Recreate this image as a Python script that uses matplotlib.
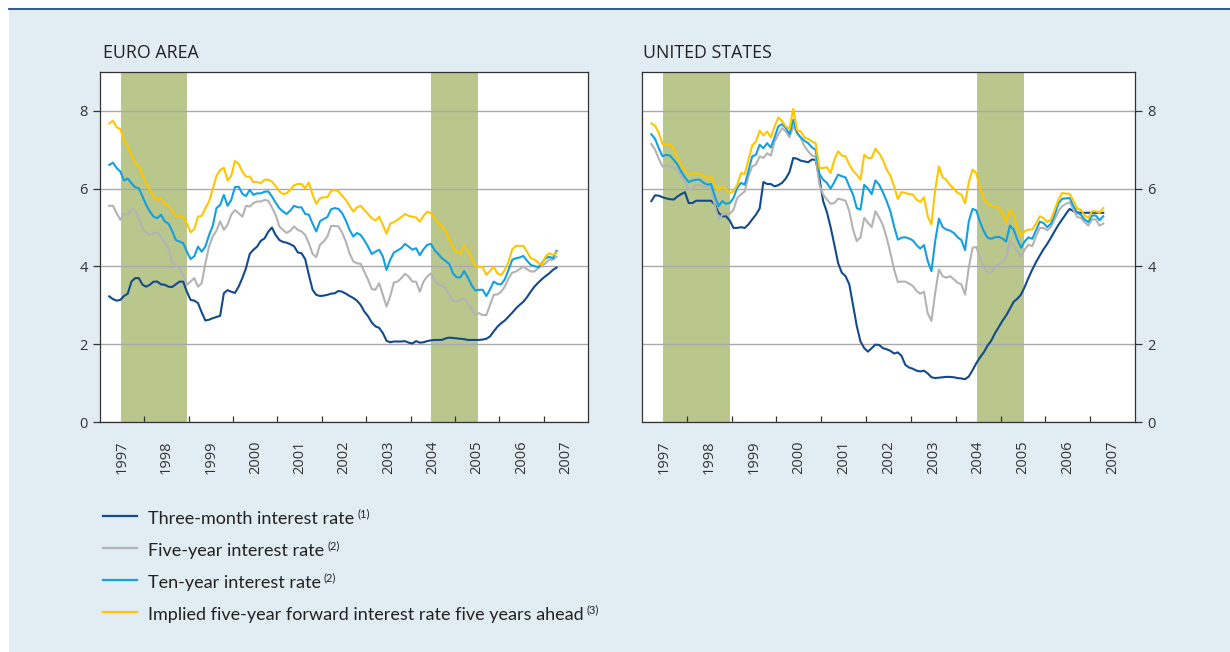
import numpy as np
import matplotlib
matplotlib.use("Agg")
import matplotlib.pyplot as plt
from matplotlib import font_manager
from matplotlib.lines import Line2D
from matplotlib.patches import Rectangle

# ---------------- data (monthly, Mar 1997 - Apr 2007) ----------------
start_year = 1997
start_month = 3
n_months = 122

euro_3m = [
    3.23, 3.16, 3.12, 3.14, 3.24, 3.30, 3.61, 3.70, 3.70, 3.53,
    3.48, 3.53, 3.61, 3.61, 3.54, 3.53, 3.48, 3.47, 3.54, 3.61,
    3.61, 3.35, 3.14, 3.12, 3.06, 2.82, 2.61, 2.63, 2.67, 2.70,
    2.73, 3.31, 3.39, 3.35, 3.32, 3.48, 3.70, 3.96, 4.32, 4.43,
    4.51, 4.66, 4.72, 4.89, 5.00, 4.81, 4.68, 4.63, 4.61, 4.57,
    4.52, 4.36, 4.34, 4.19, 3.78, 3.40, 3.27, 3.24, 3.25, 3.27,
    3.30, 3.31, 3.37, 3.35, 3.30, 3.24, 3.19, 3.12, 3.01, 2.84,
    2.72, 2.56, 2.46, 2.42, 2.29, 2.09, 2.05, 2.07, 2.07, 2.07,
    2.08, 2.04, 2.02, 2.08, 2.04, 2.05, 2.08, 2.10, 2.11, 2.11,
    2.11, 2.15, 2.17, 2.16, 2.15, 2.14, 2.13, 2.11, 2.11, 2.11,
    2.11, 2.12, 2.14, 2.20, 2.33, 2.45, 2.54, 2.61, 2.71, 2.81,
    2.92, 3.01, 3.09, 3.21, 3.35, 3.48, 3.58, 3.67, 3.75, 3.82,
    3.91, 3.97]

euro_5y = [
    5.56, 5.56, 5.37, 5.20, 5.37, 5.33, 5.47, 5.45, 5.24, 4.98,
    4.86, 4.81, 4.86, 4.87, 4.75, 4.60, 4.47, 4.13, 4.02, 3.96,
    3.78, 3.53, 3.61, 3.70, 3.48, 3.57, 4.08, 4.51, 4.77, 4.92,
    5.16, 4.94, 5.07, 5.33, 5.45, 5.37, 5.28, 5.56, 5.54, 5.63,
    5.67,
    5.67, 5.71, 5.69, 5.52, 5.33, 5.03, 4.94, 4.86, 4.92, 5.03,
    4.94, 4.90, 4.81, 4.60, 4.32, 4.24, 4.56, 4.64, 4.77, 5.04,
    5.04, 5.03, 4.87, 4.64, 4.34, 4.13, 4.08, 4.07, 3.87, 3.66,
    3.42, 3.40, 3.57, 3.27, 2.97, 3.23, 3.59, 3.61, 3.70, 3.81,
    3.74, 3.61,
    3.61, 3.35, 3.61, 3.74, 3.82, 3.65, 3.55, 3.50, 3.44, 3.27,
    3.12, 3.10, 3.14, 3.18, 3.05, 2.92, 2.75, 2.80, 2.75, 2.75,
    3.01, 3.27, 3.28, 3.35, 3.48, 3.69, 3.84, 3.87, 3.93, 4.00,
    3.93, 3.87, 3.87, 3.95, 4.01, 4.08, 4.18, 4.17, 4.25]

euro_10y = [
    6.61, 6.67, 6.53, 6.44, 6.21, 6.26, 6.14, 6.04, 6.01, 5.80,
    5.58, 5.41, 5.28, 5.24, 5.33, 5.16, 5.10, 4.92, 4.68, 4.64,
    4.60, 4.38, 4.19, 4.26, 4.51, 4.38, 4.51, 4.81, 5.04, 5.50,
    5.58, 5.84, 5.56, 5.71, 6.04, 6.05, 5.87, 5.81, 5.97, 5.84,
    5.88,
    5.88, 5.92, 5.93, 5.80, 5.64, 5.50, 5.41, 5.35, 5.44, 5.56,
    5.52, 5.52, 5.35, 5.33, 5.10, 4.90, 5.16, 5.22, 5.27, 5.47,
    5.50, 5.48, 5.37, 5.18, 4.94, 4.77, 4.86, 4.81, 4.67, 4.51,
    4.32, 4.38, 4.43, 4.26, 3.91, 4.17, 4.36, 4.41, 4.47, 4.58,
    4.51, 4.43,
    4.47, 4.29, 4.44, 4.55, 4.58, 4.42, 4.32, 4.21, 4.14, 4.06,
    3.82, 3.72, 3.72, 3.88, 3.72, 3.52, 3.38, 3.40, 3.40, 3.24,
    3.41, 3.61, 3.55, 3.54, 3.67, 3.91, 4.17, 4.21, 4.23, 4.27,
    4.15, 4.04, 4.01, 3.98, 4.08, 4.21, 4.25, 4.21, 4.40]

euro_fwd = [
    7.67, 7.75, 7.58, 7.53, 7.24, 7.10, 6.87, 6.64, 6.59, 6.33,
    6.12, 5.97, 5.80, 5.71, 5.75, 5.60, 5.56, 5.44, 5.30, 5.30,
    5.27, 5.11, 4.88, 4.96, 5.28, 5.30, 5.50, 5.67, 5.99, 6.33,
    6.48, 6.54, 6.21, 6.33, 6.71, 6.64, 6.44, 6.31, 6.31, 6.17,
    6.17,
    6.14, 6.23, 6.23, 6.18, 6.07, 5.93, 5.86, 5.88, 5.97, 6.09,
    6.12, 6.12, 6.01, 6.16, 5.84, 5.61, 5.75, 5.78, 5.78, 5.94,
    5.97, 5.93, 5.82, 5.71, 5.56, 5.41, 5.52, 5.56, 5.45, 5.35,
    5.24, 5.18, 5.28, 5.07, 4.84, 5.10, 5.14, 5.20, 5.27, 5.35,
    5.30, 5.28,
    5.26, 5.15, 5.30, 5.41, 5.37, 5.24, 5.11, 5.02, 4.92, 4.68,
    4.49, 4.35, 4.34, 4.53, 4.41, 4.21, 4.01, 3.99, 3.98, 3.78,
    3.89, 3.99, 3.82, 3.78, 3.91, 4.12, 4.44, 4.53, 4.53, 4.53,
    4.38, 4.21, 4.18, 4.10, 4.04, 4.25, 4.34, 4.29, 4.35]

us_3m = [
    5.68, 5.83, 5.82, 5.78, 5.75, 5.73, 5.72, 5.80, 5.86, 5.91,
    5.63, 5.63, 5.69, 5.69, 5.69, 5.69, 5.69, 5.59, 5.38, 5.29,
    5.29, 5.18, 4.99, 4.99, 5.01, 4.99, 5.08, 5.21, 5.33, 5.49,
    6.17, 6.12, 6.12, 6.06, 6.09, 6.15, 6.26, 6.43, 6.79, 6.77,
    6.72,
    6.70, 6.68, 6.75, 6.74, 6.27, 5.68, 5.40, 5.01, 4.56, 4.09,
    3.84, 3.75, 3.54, 3.01, 2.47, 2.07, 1.90, 1.81, 1.90, 1.99,
    1.98, 1.90, 1.87, 1.83, 1.76, 1.79, 1.70, 1.47, 1.40, 1.37,
    1.32, 1.30, 1.32, 1.25, 1.15, 1.13, 1.14, 1.15, 1.16, 1.16,
    1.15, 1.13,
    1.12, 1.10, 1.17, 1.33, 1.51, 1.66, 1.79, 1.96, 2.09, 2.28,
    2.44, 2.60, 2.74, 2.91, 3.09, 3.17, 3.28, 3.48, 3.71, 3.92,
    4.11, 4.28, 4.44, 4.58, 4.74, 4.91, 5.07, 5.21, 5.35, 5.48,
    5.42, 5.39, 5.38, 5.38, 5.38, 5.38, 5.38, 5.38, 5.38]

us_5y = [
    7.15, 7.00, 6.77, 6.57, 6.60, 6.57, 6.53, 6.49, 6.32, 6.17,
    5.97, 6.00, 6.09, 6.10, 6.06, 6.03, 6.00, 5.57, 5.21, 5.33,
    5.35, 5.35, 5.46, 5.76, 5.85, 5.93, 6.32, 6.57, 6.62, 6.83,
    6.79, 6.91, 6.85, 7.21, 7.40, 7.56, 7.47, 7.32, 7.60, 7.45,
    7.30,
    7.09, 6.96, 6.85, 6.82, 6.10, 5.85, 5.72, 5.61, 5.63, 5.74,
    5.72, 5.69, 5.42, 4.95, 4.65, 4.75, 5.25, 5.12, 5.01, 5.42,
    5.26, 5.06, 4.74, 4.35, 3.92, 3.60, 3.61, 3.61, 3.56, 3.50,
    3.37, 3.30, 3.35, 2.79, 2.60, 3.32, 3.92, 3.75, 3.71, 3.75,
    3.67, 3.58,
    3.54, 3.28, 3.97, 4.48, 4.50, 4.22, 3.97, 3.85, 3.84, 3.99,
    4.05, 4.13, 4.22, 4.65, 4.54, 4.39, 4.25, 4.44, 4.56, 4.52,
    4.78, 4.99, 4.99, 4.93, 5.02, 5.21, 5.42, 5.55, 5.61, 5.65,
    5.46, 5.27, 5.25, 5.14, 5.05, 5.21, 5.21, 5.05, 5.10]

us_10y = [
    7.40, 7.28, 7.04, 6.83, 6.87, 6.85, 6.74, 6.62, 6.44, 6.29,
    6.17, 6.21, 6.23, 6.23, 6.15, 6.10, 6.12, 5.80, 5.55, 5.68,
    5.61, 5.63, 5.76, 6.02, 6.15, 6.10, 6.46, 6.83, 6.87, 7.13,
    7.04, 7.17, 7.06, 7.32, 7.60, 7.66, 7.56, 7.40, 7.77, 7.43,
    7.32,
    7.23, 7.17, 7.06, 7.00, 6.38, 6.23, 6.15, 6.00, 6.17, 6.36,
    6.32, 6.29, 6.06, 5.85, 5.50, 5.46, 6.10, 6.00, 5.86, 6.21,
    6.10, 5.91, 5.68, 5.42, 5.03, 4.69, 4.74, 4.75, 4.72, 4.67,
    4.55, 4.46, 4.55, 4.14, 3.88, 4.65, 5.23, 5.01, 4.95, 4.92,
    4.86, 4.75,
    4.68, 4.42, 5.16, 5.48, 5.44, 5.15, 4.91, 4.74, 4.71, 4.75,
    4.76, 4.72, 4.64, 5.05, 4.95, 4.69, 4.48, 4.65, 4.75, 4.71,
    4.93, 5.15, 5.12, 5.01, 5.10, 5.33, 5.62, 5.74, 5.75, 5.76,
    5.56, 5.38, 5.33, 5.21, 5.14, 5.31, 5.31, 5.19, 5.29]

us_fwd = [
    7.68, 7.62, 7.43, 7.15, 7.13, 7.15, 7.00, 6.79, 6.60, 6.46,
    6.36, 6.40, 6.38, 6.39, 6.32, 6.26, 6.32, 6.06, 5.97, 6.06,
    5.97, 5.89, 5.93, 6.10, 6.40, 6.38, 6.74, 7.11, 7.21, 7.49,
    7.37, 7.47, 7.32, 7.60, 7.83, 7.74, 7.60, 7.54, 8.05, 7.51,
    7.47,
    7.32, 7.28, 7.21, 7.17, 6.53, 6.53, 6.55, 6.40, 6.74, 6.96,
    6.85, 6.83, 6.62, 6.46, 6.36, 6.23, 6.87, 6.79, 6.79, 7.03,
    6.91, 6.74, 6.49, 6.34, 6.06, 5.74, 5.91, 5.89, 5.86, 5.85,
    5.72, 5.66, 5.78, 5.29, 5.08, 5.97, 6.57, 6.29, 6.23, 6.09,
    6.00, 5.89,
    5.85, 5.62, 6.16, 6.49, 6.40, 6.02, 5.75, 5.62, 5.56, 5.55,
    5.52, 5.36, 5.14, 5.46, 5.33, 4.99, 4.78, 4.91, 4.95, 4.95,
    5.10, 5.29, 5.24, 5.14, 5.21, 5.46, 5.72, 5.89, 5.87, 5.87,
    5.69, 5.49, 5.46, 5.31, 5.25, 5.42, 5.42, 5.38, 5.50]

# shaded periods (decimal years)
shaded_periods = [(1997.47, 1998.97), (2004.47, 2005.52)]

year_labels = [str(y) for y in range(1997, 2008)]
y_ticks = [0, 2, 4, 6, 8]

series_labels = ["Three-month interest rate", "Five-year interest rate",
                 "Ten-year interest rate",
                 "Implied five-year forward interest rate five years ahead"]
series_notes = ["(1)", "(2)", "(2)", "(3)"]
panel_titles = ["EURO AREA", "UNITED STATES"]

# ---------------- style ----------------
colors = ["#124a8c", "#b3b3b3", "#12a0e0", "#ffc600"]
shade_color = "#b9c78c"
bg_color = "#e1ecf3"
text_color = "#333333"

names = {f.name for f in font_manager.fontManager.ttflist}
base_font = "Open Sans" if "Open Sans" in names else "DejaVu Sans"
if "Liberation Sans Narrow" in names:
    leg_font, leg_size, sup_size = "Liberation Sans Narrow", 14.5, 8.0
else:
    leg_font, leg_size, sup_size = "Lato", 13.0, 8.0
plt.rcParams["font.family"] = [base_font, "DejaVu Sans"]

W, H = 1230, 652
fig = plt.figure(figsize=(W / 100, H / 100), dpi=100)
fig.patch.set_facecolor("white")


def fx(px):
    return px / W


def fy(py):
    return 1 - py / H


fig.add_artist(Rectangle((fx(9), 0), 1 - fx(9), fy(8), transform=fig.transFigure,
                         facecolor=bg_color, edgecolor="none", zorder=-10))
fig.add_artist(Line2D([fx(9), 1], [fy(8.5), fy(8.5)], color="#1f4e8c", lw=1.3,
                      transform=fig.transFigure, zorder=-9))

months = np.arange(n_months)
x = start_year + (start_month - 1 + months + 0.5) / 12.0

panels = [
    (fig.add_axes([fx(100), fy(422), fx(588) - fx(100), fy(72) - fy(422)]),
     [euro_3m, euro_5y, euro_10y, euro_fwd], "left"),
    (fig.add_axes([fx(642), fy(422), fx(1135) - fx(642), fy(72) - fy(422)]),
     [us_3m, us_5y, us_10y, us_fwd], "right"),
]

for ax, data, side in panels:
    ax.set_zorder(1)
    ax.set_facecolor("white")
    for a, b in shaded_periods:
        ax.axvspan(a, b, color=shade_color, lw=0, zorder=0.2)
    ax.set_axisbelow(True)
    for vals, c in zip(data, colors):
        ax.plot(x, vals, color=c, lw=1.5, zorder=3, solid_joinstyle="round")
    ax.set_xlim(1997, 2008)
    ax.set_ylim(0, 9)
    ax.set_yticks(y_ticks)
    ax.yaxis.grid(True, color="#a9a9a9", lw=1.0, zorder=0.5)
    ax.set_xticks(np.arange(1998, 2008))
    ax.set_xticklabels([])
    ax.set_xticks(np.arange(1997, 2008) + 0.5, minor=True)
    ax.set_xticklabels(year_labels, minor=True, rotation=90, fontsize=10.5,
                       color=text_color)
    ax.tick_params(axis="x", which="major", direction="in", length=4.5,
                   width=0.9, color="#333333")
    ax.tick_params(axis="x", which="minor", length=0, pad=13.5)
    if side == "right":
        ax.yaxis.tick_right()
    ax.tick_params(axis="y", direction="out", length=5, width=0.9,
                   color="#333333", labelsize=10.5, labelcolor=text_color, pad=4)
    for sp in ax.spines.values():
        sp.set_color("#333333")
        sp.set_linewidth(0.9)
        sp.set_zorder(4)

fig.text(fx(103), fy(58), panel_titles[0], fontsize=12.8, color="#222222",
         va="baseline", ha="left")
fig.text(fx(643), fy(58), panel_titles[1], fontsize=12.8, color="#222222",
         va="baseline", ha="left")

# legend
renderer = fig.canvas.get_renderer()
rows = [516, 548, 580, 612]
for row, lab, note, c in zip(rows, series_labels, series_notes, colors):
    fig.add_artist(Line2D([fx(103), fx(137)], [fy(row), fy(row)], color=c, lw=1.6,
                          transform=fig.transFigure))
    t = fig.text(fx(148), fy(row + 8), lab, fontsize=leg_size, color="#222222",
                 va="baseline", ha="left", family=[leg_font, "DejaVu Sans"])
    bb = t.get_window_extent(renderer=renderer)
    fig.text((bb.x1 + 3) / W, fy(row + 1), note, fontsize=sup_size, color="#222222",
             va="baseline", ha="left", family=[leg_font, "DejaVu Sans"])

fig.savefig("out.png", dpi=100, facecolor=fig.get_facecolor())
